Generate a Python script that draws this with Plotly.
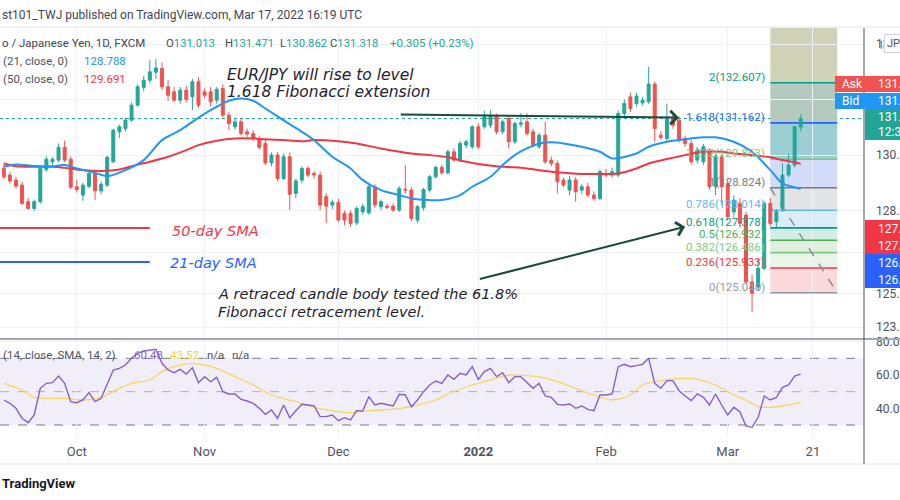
import pandas as pd
import plotly.graph_objects as go

# ---------------- data ----------------
dates = pd.bdate_range("2021-09-15", "2022-03-17")

open_ = [129.52, 129.28, 129.10, 128.92, 128.32, 128.08, 128.32, 129.48, 129.76, 129.82,
         130.28, 129.85, 128.86, 128.56, 128.88, 129.34, 128.71, 128.92, 129.76, 130.84,
         130.96, 131.26, 131.80, 132.44, 132.70, 132.99, 133.12, 132.46, 132.28, 131.98,
         132.34, 132.10, 132.64, 132.28, 132.28, 131.98, 132.40, 131.44, 131.02, 131.20,
         130.84, 130.78, 130.60, 130.42, 129.72, 130.00, 129.16, 129.94, 128.62, 129.10,
         129.52, 129.34, 129.28, 128.50, 128.20, 128.30, 127.90, 127.90, 127.56, 127.96,
         127.92, 128.86, 128.14, 128.16, 128.16, 128.02, 128.77, 128.74, 127.66, 128.10,
         128.74, 129.22, 129.56, 129.36, 130.12, 129.82, 130.36, 130.30, 131.02, 131.02,
         131.08, 131.41, 130.84, 131.32, 130.48, 131.11, 131.20, 130.84, 130.30, 130.72,
         129.82, 129.70, 129.10, 128.74, 129.10, 128.74, 128.86, 128.56, 128.44, 129.34,
         129.28, 129.28, 131.50, 132.10, 131.86, 131.88, 131.92, 132.56, 130.72, 130.60,
         131.32, 131.26, 130.60, 130.42, 129.82, 129.76, 130.12, 128.86, 129.94, 128.98,
         127.95, 128.26, 127.84, 125.43, 125.25, 125.92, 128.26, 127.60, 128.08, 129.28,
         129.64, 131.013]
high_ = [129.66, 129.40, 129.22, 129.05, 128.45, 128.40, 129.58, 129.95, 129.92, 130.42,
         130.52, 129.95, 129.10, 129.00, 129.40, 129.45, 129.05, 129.98, 130.95, 131.10,
         131.35, 131.90, 132.55, 132.85, 133.42, 133.46, 133.35, 132.70, 132.45, 132.45,
         132.50, 132.75, 132.80, 132.40, 132.45, 132.45, 132.55, 131.55, 131.35, 131.35,
         130.95, 130.90, 130.70, 130.55, 130.10, 130.10, 130.05, 130.10, 129.15, 129.60,
         129.60, 129.42, 129.40, 128.62, 128.40, 128.42, 128.00, 128.00, 128.15, 128.25,
         128.95, 128.95, 128.40, 128.25, 128.25, 128.88, 129.64, 128.85, 128.20, 128.82,
         129.28, 129.62, 129.65, 130.20, 130.25, 130.50, 130.55, 131.08, 131.15, 131.60,
         131.62, 131.50, 131.28, 131.40, 131.20, 131.51, 131.51, 130.95, 130.80, 131.20,
         129.95, 129.80, 129.20, 129.25, 129.20, 128.95, 129.00, 128.70, 129.48, 129.50,
         129.55, 131.60, 132.00, 132.25, 132.25, 132.10, 133.18, 132.65, 130.85, 131.86,
         131.45, 131.40, 130.70, 130.55, 130.30, 130.40, 130.25, 130.05, 130.05, 129.10,
         128.55, 128.45, 127.95, 125.70, 126.30, 128.35, 128.45, 128.05, 129.70, 130.05,
         131.05, 131.471]
low_ = [129.15, 128.98, 128.80, 128.20, 128.02, 127.99, 128.25, 129.40, 129.65, 129.75,
        129.75, 128.78, 128.65, 128.35, 128.80, 128.38, 128.60, 128.85, 129.70, 130.62,
        130.85, 131.20, 131.75, 132.30, 132.60, 132.75, 132.35, 131.95, 131.90, 131.85,
        131.90, 131.62, 131.70, 132.05, 131.75, 131.85, 131.35, 130.90, 130.92, 130.70,
        130.65, 130.50, 130.20, 129.65, 129.60, 129.05, 129.10, 128.02, 128.45, 128.98,
        129.20, 129.15, 128.02, 127.55, 128.05, 127.58, 127.48, 127.42, 127.48, 127.85,
        127.85, 128.10, 128.02, 128.05, 127.95, 127.95, 128.60, 127.62, 127.55, 128.00,
        128.65, 129.15, 129.28, 129.30, 129.75, 129.75, 130.25, 130.22, 130.22, 130.95,
        130.98, 130.75, 130.75, 130.24, 130.40, 131.00, 130.70, 130.28, 130.22, 129.68,
        129.60, 128.62, 128.85, 128.55, 128.32, 128.60, 128.48, 128.35, 128.38, 129.20,
        129.18, 129.20, 131.40, 131.55, 131.75, 131.78, 131.85, 130.48, 130.55, 130.50,
        130.95, 130.45, 130.30, 129.65, 129.70, 129.65, 128.75, 128.55, 128.20, 127.65,
        127.75, 127.40, 125.35, 124.34, 125.10, 125.85, 127.45, 127.40, 127.95, 129.20,
        129.55, 130.862]
close_ = [129.22, 129.07, 128.88, 128.26, 128.08, 128.32, 129.52, 129.85, 129.85, 130.28,
          129.82, 128.84, 128.76, 128.92, 129.34, 128.71, 128.95, 129.92, 130.90, 131.02,
          131.26, 131.80, 132.46, 132.70, 133.00, 133.14, 132.46, 132.16, 131.98, 132.34,
          132.01, 132.64, 131.80, 132.16, 131.92, 132.37, 131.44, 131.14, 131.20, 130.78,
          130.76, 130.60, 130.28, 129.72, 130.00, 129.16, 129.94, 128.59, 129.07, 129.52,
          129.28, 129.28, 128.20, 128.16, 128.30, 127.66, 127.66, 127.54, 128.08, 128.14,
          128.86, 128.20, 128.32, 128.12, 128.02, 128.80, 128.74, 127.72, 128.14, 128.76,
          129.22, 129.56, 129.36, 130.12, 129.82, 130.42, 130.48, 131.02, 130.30, 131.38,
          131.41, 130.84, 131.20, 130.48, 131.14, 131.16, 130.78, 130.36, 130.72, 129.76,
          129.70, 129.04, 128.92, 129.10, 128.68, 128.86, 128.56, 128.44, 129.40, 129.28,
          129.40, 131.50, 131.86, 131.68, 132.13, 131.98, 132.56, 130.96, 130.64, 131.32,
          131.08, 130.54, 130.42, 129.76, 130.18, 130.30, 128.86, 129.94, 128.86, 127.78,
          128.38, 127.54, 125.43, 125.02, 125.92, 128.26, 127.54, 127.96, 129.28, 129.64,
          131.02, 131.318]

# SMA values read at sample bars (index into dates)
sma21_idx = [0, 2, 5, 8, 10, 12, 15, 17, 20, 23, 26, 29, 31, 34, 37, 39, 41, 43, 46, 49,
             51, 54, 57, 59, 62, 65, 67, 70, 72, 75, 77, 80, 82, 84, 86, 88, 90, 92, 95, 98,
             100, 104, 106, 109, 112, 115, 117, 120, 123, 126, 128, 131]
sma21_val = [129.58, 129.66, 129.61, 129.60, 129.64, 129.52, 129.36, 129.24, 129.46, 129.82,
             130.54, 130.90, 131.20, 131.62, 131.96, 132.04, 131.96, 131.68, 131.25, 130.84,
             130.54, 129.94, 129.52, 129.10, 128.74, 128.56, 128.44, 128.38, 128.38, 128.56,
             128.86, 129.22, 129.64, 130.00, 130.24, 130.42, 130.46, 130.42, 130.30, 130.12,
             129.88, 130.06, 130.30, 130.48, 130.57, 130.64, 130.64, 130.48, 130.12, 129.46,
             128.98, 128.788]
sma50_idx = [0, 2, 5, 8, 10, 13, 16, 19, 21, 24, 27, 30, 32, 35, 38, 41, 43, 46, 49, 51,
             55, 58, 62, 67, 70, 73, 76, 78, 81, 84, 86, 89, 92, 95, 98, 101, 104, 106, 109,
             112, 115, 118, 120, 123, 126, 128, 131]
sma50_val = [129.70, 129.60, 129.58, 129.58, 129.54, 129.46, 129.43, 129.48, 129.60, 129.76,
             129.94, 130.18, 130.36, 130.52, 130.60, 130.60, 130.57, 130.54, 130.50, 130.54,
             130.50, 130.42, 130.24, 130.06, 130.00, 129.92, 129.76, 129.68, 129.60, 129.56,
             129.52, 129.43, 129.36, 129.32, 129.32, 129.34, 129.52, 129.70, 129.86, 130.00,
             130.12, 130.12, 130.06, 130.00, 129.92, 129.82, 129.691]

rsi = [45, 43, 40, 34, 31.4, 36, 52, 55, 55.4, 59.4,
       55, 44, 43.4, 45, 49.4, 44, 46, 55, 63, 64,
       66, 70, 73, 74.4, 75, 75.4, 67, 63, 61.4, 63.4,
       60.6, 64.4, 55.4, 59, 56, 58.6, 50, 48.6, 48.6, 45.4,
       44.4, 43, 40, 36.4, 39, 34, 42, 34.4, 38.6, 42.4,
       42, 41.4, 35, 35, 36, 32.6, 34.4, 33, 38.6, 38.4,
       47, 42, 43, 42.4, 41.4, 48.4, 48, 41, 45, 50,
       54, 56.4, 55, 60, 57.4, 61, 60, 65, 57.4, 62,
       64, 59, 61.4, 55.4, 59, 59, 55.4, 52, 55, 47.4,
       46.6, 42.4, 42, 42.6, 40, 41.4, 39.4, 38.6, 48, 48,
       48.6, 65, 66.4, 65, 65.6, 66.4, 70, 55, 52, 56.6,
       56.6, 50.6, 47.4, 44.6, 48.6, 46.6, 42, 48.6, 42, 36,
       40.6, 38, 29.4, 28.6, 34.6, 47.4, 45, 46.6, 52.6, 54,
       59.4, 60.48]
rsi_ma_idx = [0, 3, 5, 8, 10, 13, 16, 19, 21, 24, 26, 28, 31, 33, 35, 38, 41, 44, 48, 51,
              54, 57, 60, 62, 65, 68, 71, 73, 77, 80, 83, 86, 88, 91, 94, 97, 100, 103, 105,
              108, 111, 114, 117, 120, 122, 124, 126, 128, 131]
rsi_ma_val = [55, 51, 46.6, 46, 46, 45, 46.6, 52, 55, 57, 62, 65, 67, 66, 64, 59, 54, 48, 44,
              40.6, 38.6, 37.4, 38.6, 39, 39.8, 42, 45, 48.6, 54, 57, 60, 59.6, 59, 56, 52,
              48, 45, 48, 54, 56.6, 58, 57.4, 54, 48, 45, 41, 40.6, 41.4, 43.52]

# Fibonacci extension drawing
fib_ratios = [0, 0.236, 0.382, 0.5, 0.618, 0.786, 1, 1.272, 1.618, 2]
fib_prices = [125.040, 125.933, 126.486, 126.932, 127.378, 128.014, 128.824, 129.853, 131.162, 132.607]
fib_top = 134.947  # 2.618 level (band top)
fib_line_colors = ["#9598a1", "#f23645", "#81c784", "#4caf50", "#089981", "#64b5f6",
                   "#787b86", "#81c784", "#2962ff", "#089981"]
fib_band_colors = ["#fcd9da", "#e9f5e8", "#dff1de", "#d2ede6", "#dcedfa", "#e3e4e6",
                   "#d3dbfb", "#9bcfd3", "#b5cabe", "#d0d2b7"]
fib_start, fib_end = "2022-03-10", "2022-03-25"

# other drawings
sma50_marker_price = 127.378
sma21_marker_price = 126.152
marker_end = "2021-10-19"
arrow1 = dict(tail=("2021-12-15", 131.46), tip=("2022-02-17", 131.35))
arrow2 = dict(tail=("2022-01-03", 125.52), tip=("2022-02-18", 127.42))
last_price = 131.318

tick_dates = ["2021-10-01", "2021-11-01", "2021-12-01", "2022-01-03", "2022-02-01", "2022-03-01", "2022-03-21"]
tick_text = ["Oct", "Nov", "Dec", "<b>2022</b>", "Feb", "Mar", "21"]
price_ticks = [123.8, 125.0, 126.5, 128.0, 130.0, 132.0, 134.0]
price_tick_text = ["123.800", "125.000", "126.500", "128.000", "130.000", "132.000", "134.000"]
rsi_ticks = [40, 60, 80]
rsi_tick_text = ["40.00", "60.00", "80.00"]

# ---------------- styling ----------------
UP, DN = "#26a69a", "#ef5350"
GRID = "#edf0f5"
L, R, T, B = 0, 864, 28, 437


def px(x):
    return (x - L) / (R - L)


def py(y):
    return (B - y) / (B - T)


fig = go.Figure()
fig.add_trace(go.Candlestick(
    x=dates, open=open_, high=high_, low=low_, close=close_,
    increasing=dict(line=dict(color=UP, width=1), fillcolor=UP),
    decreasing=dict(line=dict(color=DN, width=1), fillcolor=DN),
    whiskerwidth=0, hoverinfo="skip", xaxis="x", yaxis="y"))
fig.add_trace(go.Scatter(x=dates[sma50_idx], y=sma50_val, mode="lines",
                         line=dict(color="#f23645", width=2, shape="spline", smoothing=0.8),
                         hoverinfo="skip", xaxis="x", yaxis="y"))
fig.add_trace(go.Scatter(x=dates[sma21_idx], y=sma21_val, mode="lines",
                         line=dict(color="#2196f3", width=2, shape="spline", smoothing=0.8),
                         hoverinfo="skip", xaxis="x", yaxis="y"))
fig.add_trace(go.Scatter(x=dates[rsi_ma_idx], y=rsi_ma_val, mode="lines",
                         line=dict(color="#f4d760", width=1.3, shape="spline", smoothing=0.8),
                         hoverinfo="skip", xaxis="x2", yaxis="y2"))
fig.add_trace(go.Scatter(x=dates, y=rsi, mode="lines",
                         line=dict(color="#8560cb", width=1.4),
                         hoverinfo="skip", xaxis="x2", yaxis="y2"))

shapes = []
band_edges = fib_prices + [fib_top]
for i in range(len(fib_prices)):
    shapes.append(dict(type="rect", xref="x", yref="y", x0=fib_start, x1=fib_end,
                       y0=band_edges[i], y1=band_edges[i + 1], fillcolor=fib_band_colors[i],
                       line=dict(width=0), layer="below"))
for p, c in zip(fib_prices, fib_line_colors):
    shapes.append(dict(type="line", xref="x", yref="y", x0=fib_start, x1=fib_end, y0=p, y1=p,
                       line=dict(color=c, width=1.6), layer="between"))
shapes.append(dict(type="line", xref="x", yref="y", x0=fib_start, x1=fib_end,
                   y0=fib_prices[6], y1=fib_prices[0],
                   line=dict(color="#8a8d96", width=1.5, dash="dash"), layer="between"))
shapes.append(dict(type="line", xref="paper", yref="y", x0=0, x1=1, y0=last_price, y1=last_price,
                   line=dict(color=UP, width=1, dash="dot"), layer="between"))
shapes.append(dict(type="line", xref="x", yref="y", x0="2021-09-10", x1=marker_end,
                   y0=sma50_marker_price, y1=sma50_marker_price,
                   line=dict(color="#f23645", width=2), layer="above"))
shapes.append(dict(type="line", xref="x", yref="y", x0="2021-09-10", x1=marker_end,
                   y0=sma21_marker_price, y1=sma21_marker_price,
                   line=dict(color="#2962ff", width=2), layer="above"))
shapes.append(dict(type="rect", xref="paper", yref="y2", x0=0, x1=1, y0=30, y1=70,
                   fillcolor="rgba(126,87,194,0.10)", line=dict(width=0), layer="below"))
for lv, col in [(70, "#787b86"), (50, "rgba(120,123,134,0.55)"), (30, "#787b86")]:
    shapes.append(dict(type="line", xref="paper", yref="y2", x0=0, x1=1, y0=lv, y1=lv,
                       line=dict(color=col, width=1, dash="dash"), layer="between"))
shapes.append(dict(type="line", xref="paper", yref="paper", x0=0, x1=px(900), y0=py(27), y1=py(27),
                   line=dict(color="#e0e3eb", width=1), layer="above"))
shapes.append(dict(type="line", xref="paper", yref="paper", x0=0, x1=px(900), y0=py(339), y1=py(339),
                   line=dict(color="#a3a6af", width=2), layer="above"))
shapes.append(dict(type="line", xref="paper", yref="paper", x0=0, x1=px(900), y0=py(464), y1=py(464),
                   line=dict(color="#e0e3eb", width=1), layer="above"))
shapes.append(dict(type="line", xref="paper", yref="paper", x0=px(864), x1=px(864), y0=py(28), y1=py(464),
                   line=dict(color="#50535e", width=1), layer="above"))
tags = [(835, 76, 92, "#f05350"), (835, 93, 109, "#2196f3"), (865, 109, 140, "#22a595"),
        (865, 220, 254, "#f23645"), (865, 254, 288, "#2962ff")]
for x0, y0, y1, col in tags:
    shapes.append(dict(type="rect", xref="paper", yref="paper", x0=px(x0), x1=px(905),
                       y0=py(y1), y1=py(y0), fillcolor=col, line=dict(width=0), layer="above"))

ann = []


def txt(x, y, text, color="#50535e", size=12, family="Roboto", anchor="left"):
    ann.append(dict(xref="paper", yref="paper", x=px(x), y=py(y), text=text, showarrow=False,
                    xanchor=anchor, yanchor="middle", font=dict(family=family, size=size, color=color)))


txt(0, 15, "st101_TWJ published on TradingView.com, Mar 17, 2022 16:19 UTC", "#434651", 12)
txt(0, 43, "o / Japanese Yen, 1D, FXCM", "#434651", 11.5)
for xx, letter, val in [(164, "O", "131.013"), (223, "H", "131.471"), (278, "L", "130.862"), (328, "C", "131.318")]:
    txt(xx, 43, f"<span style='color:#434651'>{letter}</span>{val}", "#22a595", 11.3)
txt(388, 43, "+0.305 (+0.23%)", "#22a595", 11.5)
txt(1, 61, "(21, close, 0)", "#50535e", 11.5)
txt(82, 61, "128.788", "#2196f3", 11.5)
txt(1, 79, "(50, close, 0)", "#50535e", 11.5)
txt(82, 79, "129.691", "#f23645", 11.5)
txt(1, 355, "(14, close, SMA, 14, 2)", "#50535e", 11.5)
txt(132, 355, "60.48", "#8560cb", 11.5)
txt(168, 355, "43.52", "#f2d04f", 11.5)
txt(205, 355, "n/a", "#50535e", 11.5)
txt(230, 355, "n/a", "#50535e", 11.5)
txt(0, 483, "<b>TradingView</b>", "#131722", 13)
txt(876, 45, "1:", "#787b86", 11)
ann.append(dict(xref="paper", yref="paper", x=px(884), y=py(44), text="JPY", showarrow=False,
                xanchor="left", yanchor="middle", font=dict(family="Roboto", size=11, color="#50535e"),
                bordercolor="#d1d4dc", borderwidth=1, borderpad=2, bgcolor="white"))
txt(840, 84, "Ask", "white", 12)
txt(876, 84, "131.334", "white", 12)
txt(840, 101, "Bid", "white", 12)
txt(876, 101, "131.318", "white", 12)
txt(876, 117, "131.318", "white", 12)
txt(876, 132, "12:39:51", "white", 12)
txt(876, 229, "127.378", "white", 12)
txt(876, 246, "127.378", "white", 12)
txt(876, 263, "126.152", "white", 12)
txt(876, 280, "126.152", "white", 12)

for r_, p, c in zip(fib_ratios, fib_prices, fib_line_colors):
    ann.append(dict(xref="x", yref="y", x=fib_start, y=p, text=f"{r_:g}({p:.3f})", showarrow=False,
                    xanchor="right", yanchor="middle", xshift=-3, yshift=6,
                    font=dict(family="Roboto", size=11.5, color=c)))

DRAW_FONT = "DejaVu Sans"


def dtxt(x, y, text, color, size=14.5, xshift=0):
    ann.append(dict(xref="x", yref="y", x=x, y=y, text=f"<i>{text}</i>", showarrow=False,
                    xanchor="left", yanchor="middle", xshift=xshift,
                    font=dict(family=DRAW_FONT, size=size, color=color)))


dtxt("2021-11-04", 132.88, "EUR/JPY will rise to level", "#1e222d", size=15.5, xshift=2)
dtxt("2021-11-04", 132.27, "1.618 Fibonacci extension", "#1e222d", size=15.5, xshift=2)
dtxt("2021-10-22", 127.26, "50-day SMA", "#f23645", xshift=2)
dtxt("2021-10-22", 126.11, "21-day SMA", "#2962ff", xshift=0)
dtxt("2021-11-03", 124.99, "A retraced candle body tested the 61.8%", "#1e222d", xshift=-1)
dtxt("2021-11-03", 124.34, "Fibonacci retracement level.", "#1e222d", xshift=-1)

for a in (arrow1, arrow2):
    ann.append(dict(xref="x", yref="y", axref="x", ayref="y",
                    x=a["tip"][0], y=a["tip"][1], ax=a["tail"][0], ay=a["tail"][1],
                    text="", showarrow=True, arrowhead=4, arrowsize=1.3, arrowwidth=2,
                    arrowcolor="#1d4a3b"))

fig.update_layout(
    width=900, height=500,
    margin=dict(l=0, r=36, t=28, b=63, autoexpand=False),
    paper_bgcolor="white", plot_bgcolor="white",
    showlegend=False, hovermode=False,
    font=dict(family="Roboto", size=12, color="#131722"),
    xaxis=dict(domain=[0, 1], anchor="y", type="date", automargin=False,
               range=["2021-09-14 09:00", "2022-03-31 09:36"],
               rangebreaks=[dict(bounds=["sat", "mon"])],
               rangeslider=dict(visible=False),
               tickvals=tick_dates, showticklabels=False, showgrid=True, gridcolor=GRID,
               zeroline=False, showline=False, ticks=""),
    xaxis2=dict(domain=[0, 1], anchor="y2", type="date", matches="x", automargin=False,
                rangebreaks=[dict(bounds=["sat", "mon"])],
                tickvals=tick_dates, ticktext=tick_text, showgrid=True, gridcolor=GRID,
                zeroline=False, showline=False, ticks="", ticklabelstandoff=5,
                tickfont=dict(family="Roboto", size=13, color="#50535e")),
    yaxis=dict(domain=[py(338), 1], anchor="x", side="right", range=[123.41, 134.58], automargin=False,
               tickvals=price_ticks, ticktext=price_tick_text, showgrid=True, gridcolor=GRID,
               zeroline=False, showline=False, ticks="", ticklabelstandoff=11,
               tickfont=dict(family="Roboto", size=12, color="#4c525e")),
    yaxis2=dict(domain=[0, py(340)], anchor="x2", side="right", range=[22.8, 81.0], automargin=False,
                tickvals=rsi_ticks, ticktext=rsi_tick_text, showgrid=True, gridcolor=GRID,
                zeroline=False, showline=False, ticks="", ticklabelstandoff=11,
                tickfont=dict(family="Roboto", size=12, color="#4c525e")),
    shapes=shapes, annotations=ann,
)

fig.write_html("out.html", config={"displayModeBar": False, "staticPlot": True},
               post_script="document.body.style.margin='0px';document.body.style.overflow='hidden';")
